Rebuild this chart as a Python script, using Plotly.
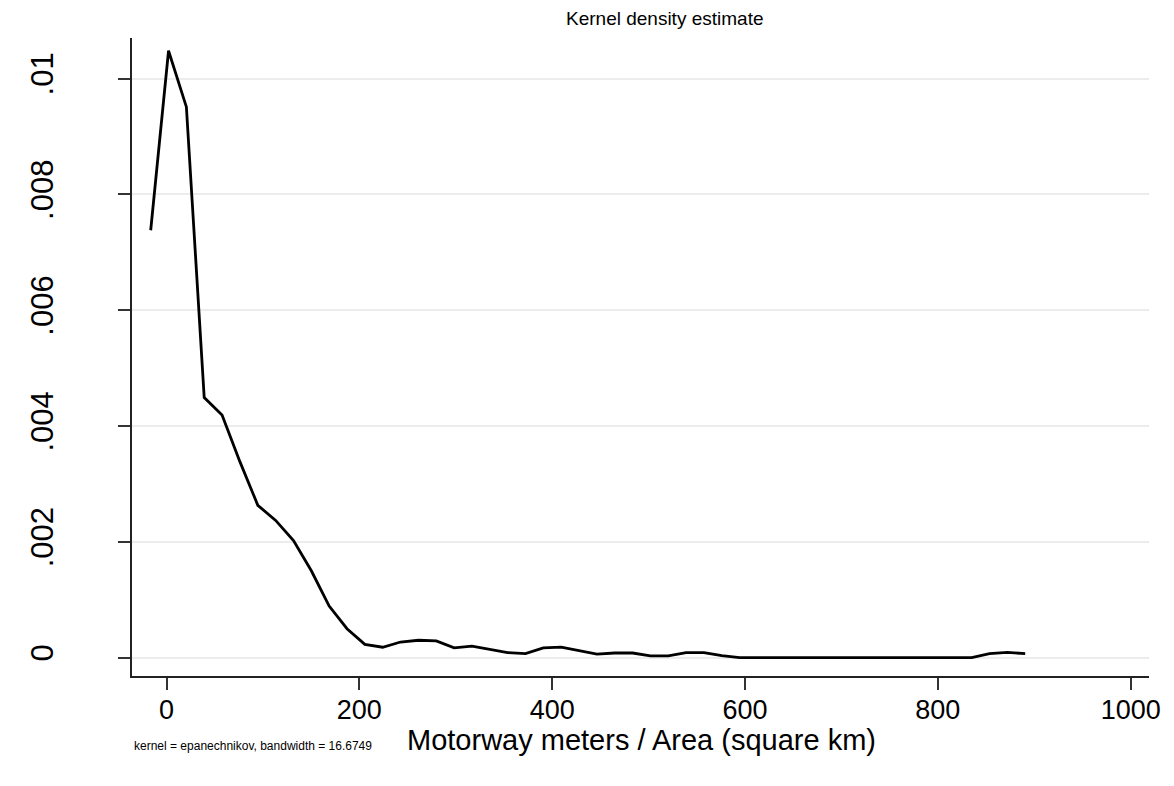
import plotly.graph_objects as go

# Kernel density estimate evaluation points (Stata kdensity, n=50)
x_vals = [-16.4, 2.1, 20.6, 39.1, 57.6, 76.2, 94.7, 113.2, 131.7, 150.2,
          168.7, 187.2, 205.7, 224.2, 242.7, 261.3, 279.8, 298.3, 316.8, 335.3,
          353.8, 372.3, 390.8, 409.3, 427.8, 446.4, 464.9, 483.4, 501.9, 520.4,
          538.9, 557.4, 575.9, 594.4, 612.9, 631.4, 650.0, 668.5, 687.0, 705.5,
          724.0, 742.5, 761.0, 779.5, 798.0, 816.5, 835.1, 853.6, 872.1, 890.6]
density = [0.00738, 0.01048, 0.00951, 0.00449, 0.00419, 0.00338, 0.00263, 0.00237, 0.00202, 0.00150,
           0.00089, 0.00050, 0.00023, 0.00018, 0.00027, 0.00030, 0.00029, 0.00017, 0.00020, 0.00014,
           0.000087, 0.00007, 0.00017, 0.00018, 0.00012, 0.00006, 0.00008, 0.00008, 0.00003, 0.00003,
           0.000087, 0.000087, 0.000035, 0.0, 0.0, 0.0, 0.0, 0.0, 0.0, 0.0,
           0.0, 0.0, 0.0, 0.0, 0.0, 0.0, 0.0, 0.00007, 0.00009, 0.00007]

x_ticks = [0, 200, 400, 600, 800, 1000]
x_tick_labels = ["0", "200", "400", "600", "800", "1000"]
y_ticks = [0, 0.002, 0.004, 0.006, 0.008, 0.01]
y_tick_labels = ["0", ".002", ".004", ".006", ".008", ".01"]

title_text = "Kernel density estimate"
x_title = "Motorway meters / Area (square km)"
note_text = "kernel = epanechnikov, bandwidth = 16.6749"

FONT = "Liberation Sans, Arial, sans-serif"
OFF = 8  # page body margin

fig = go.Figure()
fig.add_trace(go.Scatter(x=x_vals, y=density, mode="lines",
                         line=dict(color="black", width=2.8),
                         hoverinfo="skip", showlegend=False))

W, H = 1174 - OFF, 786 - OFF
L = 132 - OFF
T = 38 - OFF
R = W - (1149 - OFF)
B = H - (676 - OFF)
pw, ph = W - L - R, H - T - B

def px_x(p):
    return (p - OFF - L) / pw

def px_y(p):
    return (H - B - (p - OFF)) / ph

fig.update_layout(
    width=W, height=H,
    margin=dict(l=L, r=R, t=T, b=B, pad=0),
    paper_bgcolor="white", plot_bgcolor="white",
    font=dict(family=FONT, color="black"),
    showlegend=False,
    xaxis=dict(range=[-35.8, 1019.0], tickvals=x_ticks, ticktext=x_tick_labels,
               showgrid=False, zeroline=False,
               showline=True, linecolor="#222222", linewidth=1.6,
               ticks="outside", ticklen=12, tickwidth=1.6, tickcolor="#333333",
               ticklabelstandoff=-3,
               tickfont=dict(size=27, family=FONT, color="black")),
    yaxis=dict(range=[-0.000317, 0.0107], tickvals=y_ticks, ticktext=y_tick_labels,
               showgrid=True, gridcolor="#ececec", gridwidth=2,
               zeroline=False,
               showline=True, linecolor="#222222", linewidth=1.6,
               ticks="outside", ticklen=12, tickwidth=1.6, tickcolor="#333333",
               tickangle=-90, ticklabelstandoff=53,
               tickfont=dict(size=31, family=FONT, color="black")),
    annotations=[
        dict(text=title_text, xref="paper", yref="paper", x=px_x(665), y=px_y(18),
             xanchor="center", yanchor="middle", showarrow=False,
             font=dict(size=19, family=FONT, color="black")),
        dict(text=x_title, xref="paper", yref="paper", x=px_x(641.7), y=px_y(740),
             xanchor="center", yanchor="middle", showarrow=False,
             font=dict(size=29, family=FONT, color="black")),
        dict(text=note_text, xref="paper", yref="paper", x=px_x(132), y=px_y(746),
             xanchor="left", yanchor="middle", showarrow=False,
             font=dict(size=12, family=FONT, color="black")),
    ],
)

fig.write_html("out.html")
